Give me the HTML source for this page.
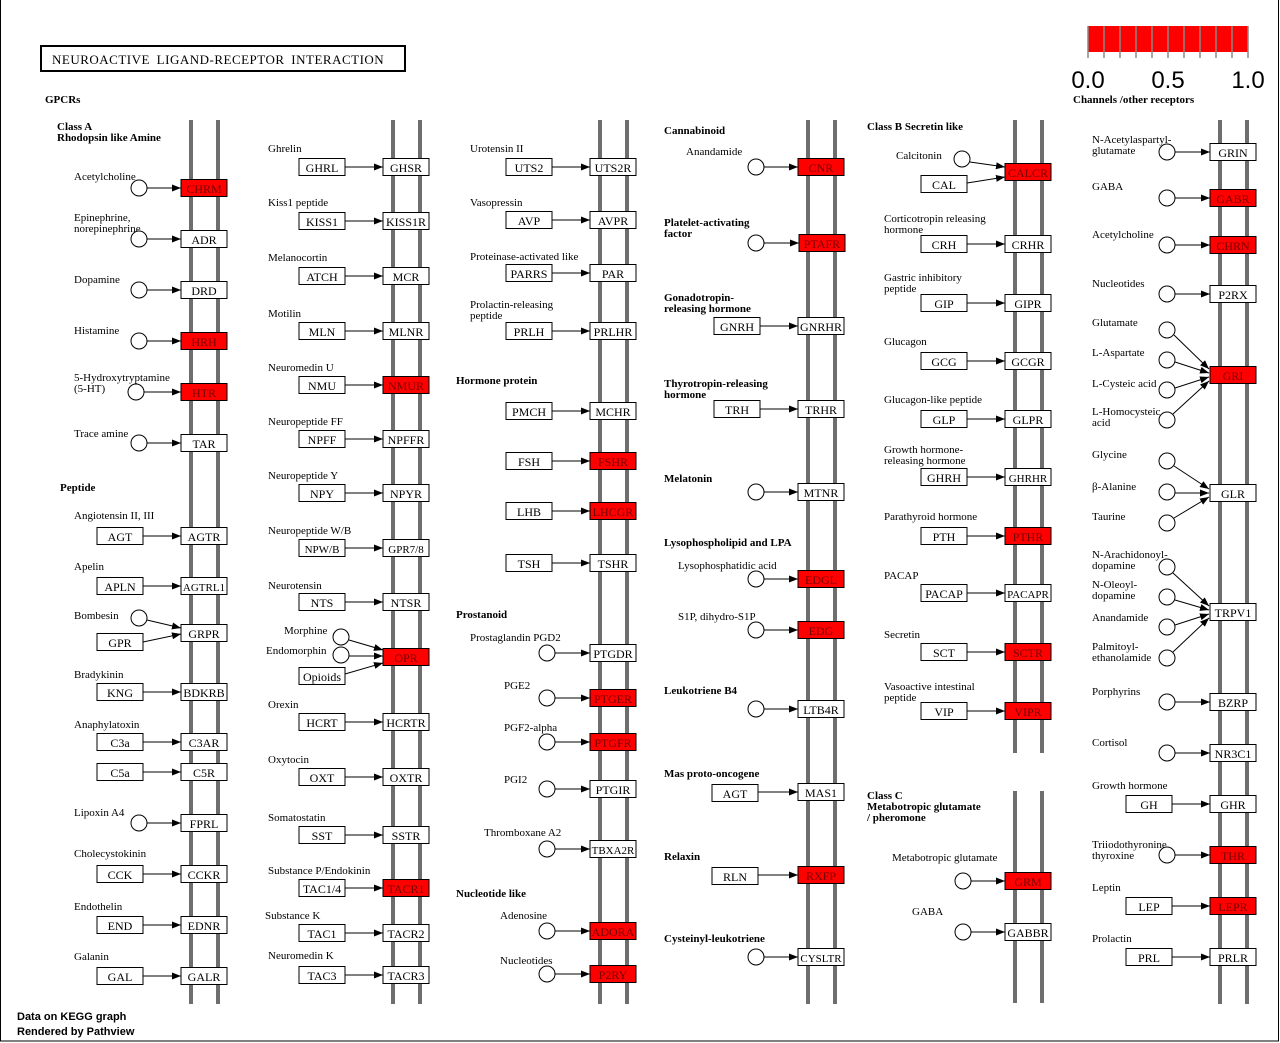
<!DOCTYPE html>
<html><head><meta charset="utf-8"><style>
html,body{margin:0;padding:0;background:#fff}
svg{display:block}
text{font-family:"Liberation Serif",serif;font-size:11px;fill:#000}
.b{font-weight:bold}
.r{font-size:12px;text-anchor:middle}
.rr{font-size:12px;text-anchor:middle;fill:#700}
.m{stroke:#6e6e6e;stroke-width:4}
.bx{fill:#fff;stroke:#000;stroke-width:1}
.rb{fill:#f00;stroke:#000;stroke-width:1}
.c{fill:#fff;stroke:#000;stroke-width:1}
.a{stroke:#000;stroke-width:1;fill:none;marker-end:url(#ah)}
</style></head><body>
<svg width="1280" height="1043" viewBox="0 0 1280 1043" xmlns="http://www.w3.org/2000/svg">
<defs><marker id="ah" markerUnits="userSpaceOnUse" markerWidth="10" markerHeight="8" refX="9" refY="3.5" orient="auto"><path d="M0,0 L9,3.5 L0,7 z" fill="#000"/></marker></defs>
<rect x="0.5" y="-1" width="1278" height="1042" fill="none" stroke="#000"/>
<g class="m">
<line x1="191" y1="120" x2="191" y2="1004"/><line x1="218" y1="120" x2="218" y2="1004"/>
<line x1="393" y1="120" x2="393" y2="1004"/><line x1="420" y1="120" x2="420" y2="1004"/>
<line x1="600" y1="120" x2="600" y2="1004"/><line x1="627" y1="120" x2="627" y2="1004"/>
<line x1="808" y1="120" x2="808" y2="1004"/><line x1="835" y1="120" x2="835" y2="1004"/>
<line x1="1015" y1="120" x2="1015" y2="753"/><line x1="1042" y1="120" x2="1042" y2="753"/>
<line x1="1015" y1="791" x2="1015" y2="1003"/><line x1="1042" y1="791" x2="1042" y2="1003"/>
<line x1="1220" y1="120" x2="1220" y2="1004"/><line x1="1247" y1="120" x2="1247" y2="1004"/>
</g>
<rect x="41" y="46" width="364" height="25" fill="#fff" stroke="#000" stroke-width="2"/>
<text x="52" y="64" style="font-size:13px;word-spacing:3px;letter-spacing:0.5px">NEUROACTIVE LIGAND-RECEPTOR INTERACTION</text>
<text x="45" y="103" class="b">GPCRs</text>
<text x="57" y="130" class="b">Class A</text><text x="57" y="141" class="b">Rhodopsin like Amine</text>
<rect x="1088" y="26" width="160" height="26" fill="#f00"/>
<g stroke="#888" stroke-width="1.5">
<line x1="1088" y1="26" x2="1088" y2="58"/><line x1="1104" y1="26" x2="1104" y2="58"/><line x1="1120" y1="26" x2="1120" y2="58"/><line x1="1136" y1="26" x2="1136" y2="58"/><line x1="1152" y1="26" x2="1152" y2="58"/><line x1="1168" y1="26" x2="1168" y2="58"/><line x1="1184" y1="26" x2="1184" y2="58"/><line x1="1200" y1="26" x2="1200" y2="58"/><line x1="1216" y1="26" x2="1216" y2="58"/><line x1="1232" y1="26" x2="1232" y2="58"/><line x1="1248" y1="26" x2="1248" y2="58"/>
</g>
<text x="1088" y="88" style="font-family:'Liberation Sans',sans-serif;font-size:24px;text-anchor:middle">0.0</text>
<text x="1168" y="88" style="font-family:'Liberation Sans',sans-serif;font-size:24px;text-anchor:middle">0.5</text>
<text x="1248" y="88" style="font-family:'Liberation Sans',sans-serif;font-size:24px;text-anchor:middle">1.0</text>
<text x="1073" y="103" class="b">Channels /other receptors</text>
<text x="17" y="1020" style="font-family:'Liberation Sans',sans-serif;font-size:11px;font-weight:bold">Data on KEGG graph</text>
<text x="17" y="1035" style="font-family:'Liberation Sans',sans-serif;font-size:11px;font-weight:bold">Rendered by Pathview</text>

<text x="74" y="180">Acetylcholine</text><circle class="c" cx="139" cy="188" r="8"/><line class="a" x1="147" y1="188" x2="181" y2="188"/><rect class="rb" x="181" y="179.5" width="46" height="17"/><text class="rr" x="204" y="193">CHRM</text>
<text x="74" y="221">Epinephrine,</text><text x="74" y="232">norepinephrine</text><circle class="c" cx="139" cy="239" r="8"/><line class="a" x1="147" y1="239" x2="181" y2="239"/><rect class="bx" x="181" y="230.5" width="46" height="17"/><text class="r" x="204" y="244">ADR</text>
<text x="74" y="283">Dopamine</text><circle class="c" cx="139" cy="290" r="8"/><line class="a" x1="147" y1="290" x2="181" y2="290"/><rect class="bx" x="181" y="281.5" width="46" height="17"/><text class="r" x="204" y="295">DRD</text>
<text x="74" y="334">Histamine</text><circle class="c" cx="139" cy="341" r="8"/><line class="a" x1="147" y1="341" x2="181" y2="341"/><rect class="rb" x="181" y="332.5" width="46" height="17"/><text class="rr" x="204" y="346">HRH</text>
<text x="74" y="381">5-Hydroxytryptamine</text><text x="74" y="392">(5-HT)</text><circle class="c" cx="136" cy="392" r="8"/><line class="a" x1="144" y1="392" x2="181" y2="392"/><rect class="rb" x="181" y="383.5" width="46" height="17"/><text class="rr" x="204" y="397">HTR</text>
<text x="74" y="437">Trace amine</text><circle class="c" cx="139" cy="443" r="8"/><line class="a" x1="147" y1="443" x2="181" y2="443"/><rect class="bx" x="181" y="434.5" width="46" height="17"/><text class="r" x="204" y="448">TAR</text>
<text x="60" y="491" class="b">Peptide</text>
<text x="74" y="519">Angiotensin II, III</text><rect class="bx" x="97" y="527.5" width="46" height="17"/><text class="r" x="120" y="541">AGT</text><line class="a" x1="143" y1="536" x2="181" y2="536"/><rect class="bx" x="181" y="527.5" width="46" height="17"/><text class="r" x="204" y="541">AGTR</text>
<text x="74" y="570">Apelin</text><rect class="bx" x="97" y="577.5" width="46" height="17"/><text class="r" x="120" y="591">APLN</text><line class="a" x1="143" y1="586" x2="181" y2="586"/><rect class="bx" x="181" y="577.5" width="46" height="17"/><text class="r" x="204" y="591" style="font-size:11px">AGTRL1</text>
<text x="74" y="619">Bombesin</text><circle class="c" cx="139" cy="618" r="8"/><line class="a" x1="147" y1="620" x2="181" y2="628"/><rect class="bx" x="97" y="633.5" width="46" height="17"/><text class="r" x="120" y="647">GPR</text><line class="a" x1="143" y1="642" x2="181" y2="634"/><rect class="bx" x="181" y="624.5" width="46" height="17"/><text class="r" x="204" y="638">GRPR</text>
<text x="74" y="678">Bradykinin</text><rect class="bx" x="97" y="683.5" width="46" height="17"/><text class="r" x="120" y="697">KNG</text><line class="a" x1="143" y1="692" x2="181" y2="692"/><rect class="bx" x="181" y="683.5" width="46" height="17"/><text class="r" x="204" y="697">BDKRB</text>
<text x="74" y="728">Anaphylatoxin</text><rect class="bx" x="97" y="733.5" width="46" height="17"/><text class="r" x="120" y="747">C3a</text><line class="a" x1="143" y1="742" x2="181" y2="742"/><rect class="bx" x="181" y="733.5" width="46" height="17"/><text class="r" x="204" y="747">C3AR</text>
<rect class="bx" x="97" y="763.5" width="46" height="17"/><text class="r" x="120" y="777">C5a</text><line class="a" x1="143" y1="772" x2="181" y2="772"/><rect class="bx" x="181" y="763.5" width="46" height="17"/><text class="r" x="204" y="777">C5R</text>
<text x="74" y="816">Lipoxin A4</text><circle class="c" cx="139" cy="823" r="8"/><line class="a" x1="147" y1="823" x2="181" y2="823"/><rect class="bx" x="181" y="814.5" width="46" height="17"/><text class="r" x="204" y="828">FPRL</text>
<text x="74" y="857">Cholecystokinin</text><rect class="bx" x="97" y="865.5" width="46" height="17"/><text class="r" x="120" y="879">CCK</text><line class="a" x1="143" y1="874" x2="181" y2="874"/><rect class="bx" x="181" y="865.5" width="46" height="17"/><text class="r" x="204" y="879">CCKR</text>
<text x="74" y="910">Endothelin</text><rect class="bx" x="97" y="916.5" width="46" height="17"/><text class="r" x="120" y="930">END</text><line class="a" x1="143" y1="925" x2="181" y2="925"/><rect class="bx" x="181" y="916.5" width="46" height="17"/><text class="r" x="204" y="930">EDNR</text>
<text x="74" y="960">Galanin</text><rect class="bx" x="97" y="967.5" width="46" height="17"/><text class="r" x="120" y="981">GAL</text><line class="a" x1="143" y1="976" x2="181" y2="976"/><rect class="bx" x="181" y="967.5" width="46" height="17"/><text class="r" x="204" y="981">GALR</text>

<text x="268" y="152">Ghrelin</text><rect class="bx" x="299" y="158.5" width="46" height="17"/><text class="r" x="322" y="172">GHRL</text><line class="a" x1="345" y1="167" x2="383" y2="167"/><rect class="bx" x="383" y="158.5" width="46" height="17"/><text class="r" x="406" y="172">GHSR</text>
<text x="268" y="206">Kiss1 peptide</text><rect class="bx" x="299" y="212.5" width="46" height="17"/><text class="r" x="322" y="226">KISS1</text><line class="a" x1="345" y1="221" x2="383" y2="221"/><rect class="bx" x="383" y="212.5" width="46" height="17"/><text class="r" x="406" y="226">KISS1R</text>
<text x="268" y="261">Melanocortin</text><rect class="bx" x="299" y="267.5" width="46" height="17"/><text class="r" x="322" y="281">ATCH</text><line class="a" x1="345" y1="276" x2="383" y2="276"/><rect class="bx" x="383" y="267.5" width="46" height="17"/><text class="r" x="406" y="281">MCR</text>
<text x="268" y="317">Motilin</text><rect class="bx" x="299" y="322.5" width="46" height="17"/><text class="r" x="322" y="336">MLN</text><line class="a" x1="345" y1="331" x2="383" y2="331"/><rect class="bx" x="383" y="322.5" width="46" height="17"/><text class="r" x="406" y="336">MLNR</text>
<text x="268" y="371">Neuromedin U</text><rect class="bx" x="299" y="376.5" width="46" height="17"/><text class="r" x="322" y="390">NMU</text><line class="a" x1="345" y1="385" x2="383" y2="385"/><rect class="rb" x="383" y="376.5" width="46" height="17"/><text class="rr" x="406" y="390">NMUR</text>
<text x="268" y="425">Neuropeptide FF</text><rect class="bx" x="299" y="430.5" width="46" height="17"/><text class="r" x="322" y="444">NPFF</text><line class="a" x1="345" y1="439" x2="383" y2="439"/><rect class="bx" x="383" y="430.5" width="46" height="17"/><text class="r" x="406" y="444">NPFFR</text>
<text x="268" y="479">Neuropeptide Y</text><rect class="bx" x="299" y="484.5" width="46" height="17"/><text class="r" x="322" y="498">NPY</text><line class="a" x1="345" y1="493" x2="383" y2="493"/><rect class="bx" x="383" y="484.5" width="46" height="17"/><text class="r" x="406" y="498">NPYR</text>
<text x="268" y="534">Neuropeptide W/B</text><rect class="bx" x="299" y="539.5" width="46" height="17"/><text class="r" x="322" y="553" style="font-size:11px">NPW/B</text><line class="a" x1="345" y1="548" x2="383" y2="548"/><rect class="bx" x="383" y="539.5" width="46" height="17"/><text class="r" x="406" y="553" style="font-size:11px">GPR7/8</text>
<text x="268" y="589">Neurotensin</text><rect class="bx" x="299" y="593.5" width="46" height="17"/><text class="r" x="322" y="607">NTS</text><line class="a" x1="345" y1="602" x2="383" y2="602"/><rect class="bx" x="383" y="593.5" width="46" height="17"/><text class="r" x="406" y="607">NTSR</text>
<text x="284" y="634">Morphine</text><circle class="c" cx="341" cy="637" r="8"/><line class="a" x1="349" y1="640" x2="383" y2="650"/>
<text x="266" y="654">Endomorphin</text><circle class="c" cx="341" cy="655" r="8"/><line class="a" x1="349" y1="656" x2="383" y2="656"/>
<rect class="bx" x="299" y="667.5" width="46" height="17"/><text class="r" x="322" y="681">Opioids</text><line class="a" x1="345" y1="674" x2="383" y2="663"/>
<rect class="rb" x="383" y="648.5" width="46" height="17"/><text class="rr" x="406" y="662">OPR</text>
<text x="268" y="708">Orexin</text><rect class="bx" x="299" y="713.5" width="46" height="17"/><text class="r" x="322" y="727">HCRT</text><line class="a" x1="345" y1="722" x2="383" y2="722"/><rect class="bx" x="383" y="713.5" width="46" height="17"/><text class="r" x="406" y="727">HCRTR</text>
<text x="268" y="763">Oxytocin</text><rect class="bx" x="299" y="768.5" width="46" height="17"/><text class="r" x="322" y="782">OXT</text><line class="a" x1="345" y1="777" x2="383" y2="777"/><rect class="bx" x="383" y="768.5" width="46" height="17"/><text class="r" x="406" y="782">OXTR</text>
<text x="268" y="821">Somatostatin</text><rect class="bx" x="299" y="826.5" width="46" height="17"/><text class="r" x="322" y="840">SST</text><line class="a" x1="345" y1="835" x2="383" y2="835"/><rect class="bx" x="383" y="826.5" width="46" height="17"/><text class="r" x="406" y="840">SSTR</text>
<text x="268" y="874">Substance P/Endokinin</text><rect class="bx" x="299" y="879.5" width="46" height="17"/><text class="r" x="322" y="893">TAC1/4</text><line class="a" x1="345" y1="888" x2="383" y2="888"/><rect class="rb" x="383" y="879.5" width="46" height="17"/><text class="rr" x="406" y="893">TACR1</text>
<text x="265" y="919">Substance K</text><rect class="bx" x="299" y="924.5" width="46" height="17"/><text class="r" x="322" y="938">TAC1</text><line class="a" x1="345" y1="933" x2="383" y2="933"/><rect class="bx" x="383" y="924.5" width="46" height="17"/><text class="r" x="406" y="938">TACR2</text>
<text x="268" y="959">Neuromedin K</text><rect class="bx" x="299" y="966.5" width="46" height="17"/><text class="r" x="322" y="980">TAC3</text><line class="a" x1="345" y1="975" x2="383" y2="975"/><rect class="bx" x="383" y="966.5" width="46" height="17"/><text class="r" x="406" y="980">TACR3</text>

<text x="470" y="152">Urotensin II</text><rect class="bx" x="506" y="158.5" width="46" height="17"/><text class="r" x="529" y="172">UTS2</text><line class="a" x1="552" y1="167" x2="590" y2="167"/><rect class="bx" x="590" y="158.5" width="46" height="17"/><text class="r" x="613" y="172">UTS2R</text>
<text x="470" y="206">Vasopressin</text><rect class="bx" x="506" y="211.5" width="46" height="17"/><text class="r" x="529" y="225">AVP</text><line class="a" x1="552" y1="220" x2="590" y2="220"/><rect class="bx" x="590" y="211.5" width="46" height="17"/><text class="r" x="613" y="225">AVPR</text>
<text x="470" y="260">Proteinase-activated like</text><rect class="bx" x="506" y="264.5" width="46" height="17"/><text class="r" x="529" y="278">PARRS</text><line class="a" x1="552" y1="273" x2="590" y2="273"/><rect class="bx" x="590" y="264.5" width="46" height="17"/><text class="r" x="613" y="278">PAR</text>
<text x="470" y="308">Prolactin-releasing</text><text x="470" y="319">peptide</text><rect class="bx" x="506" y="322.5" width="46" height="17"/><text class="r" x="529" y="336">PRLH</text><line class="a" x1="552" y1="331" x2="590" y2="331"/><rect class="bx" x="590" y="322.5" width="46" height="17"/><text class="r" x="613" y="336">PRLHR</text>
<text x="456" y="384" class="b">Hormone protein</text>
<rect class="bx" x="506" y="402.5" width="46" height="17"/><text class="r" x="529" y="416">PMCH</text><line class="a" x1="552" y1="411" x2="590" y2="411"/><rect class="bx" x="590" y="402.5" width="46" height="17"/><text class="r" x="613" y="416">MCHR</text>
<rect class="bx" x="506" y="452.5" width="46" height="17"/><text class="r" x="529" y="466">FSH</text><line class="a" x1="552" y1="461" x2="590" y2="461"/><rect class="rb" x="590" y="452.5" width="46" height="17"/><text class="rr" x="613" y="466">FSHR</text>
<rect class="bx" x="506" y="502.5" width="46" height="17"/><text class="r" x="529" y="516">LHB</text><line class="a" x1="552" y1="511" x2="590" y2="511"/><rect class="rb" x="590" y="502.5" width="46" height="17"/><text class="rr" x="613" y="516">LHCGR</text>
<rect class="bx" x="506" y="554.5" width="46" height="17"/><text class="r" x="529" y="568">TSH</text><line class="a" x1="552" y1="563" x2="590" y2="563"/><rect class="bx" x="590" y="554.5" width="46" height="17"/><text class="r" x="613" y="568">TSHR</text>
<text x="456" y="618" class="b">Prostanoid</text>
<text x="470" y="641">Prostaglandin PGD2</text><circle class="c" cx="547" cy="653" r="8"/><line class="a" x1="555" y1="653" x2="590" y2="653"/><rect class="bx" x="590" y="644.5" width="46" height="17"/><text class="r" x="613" y="658">PTGDR</text>
<text x="504" y="689">PGE2</text><circle class="c" cx="547" cy="698" r="8"/><line class="a" x1="555" y1="698" x2="590" y2="698"/><rect class="rb" x="590" y="689.5" width="46" height="17"/><text class="rr" x="613" y="703">PTGER</text>
<text x="504" y="731">PGF2-alpha</text><circle class="c" cx="547" cy="742" r="8"/><line class="a" x1="555" y1="742" x2="590" y2="742"/><rect class="rb" x="590" y="733.5" width="46" height="17"/><text class="rr" x="613" y="747">PTGFR</text>
<text x="504" y="783">PGI2</text><circle class="c" cx="547" cy="789" r="8"/><line class="a" x1="555" y1="789" x2="590" y2="789"/><rect class="bx" x="590" y="780.5" width="46" height="17"/><text class="r" x="613" y="794">PTGIR</text>
<text x="484" y="836">Thromboxane A2</text><circle class="c" cx="547" cy="849" r="8"/><line class="a" x1="555" y1="849" x2="590" y2="849"/><rect class="bx" x="590" y="840.5" width="46" height="17"/><text class="r" x="613" y="854" style="font-size:11px">TBXA2R</text>
<text x="456" y="897" class="b">Nucleotide like</text>
<text x="500" y="919">Adenosine</text><circle class="c" cx="547" cy="931" r="8"/><line class="a" x1="555" y1="931" x2="590" y2="931"/><rect class="rb" x="590" y="922.5" width="46" height="17"/><text class="rr" x="613" y="936">ADORA</text>
<text x="500" y="964">Nucleotides</text><circle class="c" cx="547" cy="974" r="8"/><line class="a" x1="555" y1="974" x2="590" y2="974"/><rect class="rb" x="590" y="965.5" width="46" height="17"/><text class="rr" x="613" y="979">P2RY</text>

<text x="664" y="134" class="b">Cannabinoid</text>
<text x="686" y="155">Anandamide</text><circle class="c" cx="756" cy="167" r="8"/><line class="a" x1="764" y1="167" x2="798" y2="167"/><rect class="rb" x="798" y="158.5" width="46" height="17"/><text class="rr" x="821" y="172">CNR</text>
<text x="664" y="226" class="b">Platelet-activating</text><text x="664" y="237" class="b">factor</text><circle class="c" cx="756" cy="243" r="8"/><line class="a" x1="764" y1="243" x2="799" y2="243"/><rect class="rb" x="799" y="234.5" width="46" height="17"/><text class="rr" x="822" y="248">PTAFR</text>
<text x="664" y="301" class="b">Gonadotropin-</text><text x="664" y="312" class="b">releasing hormone</text><rect class="bx" x="714" y="317.5" width="46" height="17"/><text class="r" x="737" y="331">GNRH</text><line class="a" x1="760" y1="326" x2="798" y2="326"/><rect class="bx" x="798" y="317.5" width="46" height="17"/><text class="r" x="821" y="331">GNRHR</text>
<text x="664" y="387" class="b">Thyrotropin-releasing</text><text x="664" y="398" class="b">hormone</text><rect class="bx" x="714" y="400.5" width="46" height="17"/><text class="r" x="737" y="414">TRH</text><line class="a" x1="760" y1="409" x2="798" y2="409"/><rect class="bx" x="798" y="400.5" width="46" height="17"/><text class="r" x="821" y="414">TRHR</text>
<text x="664" y="482" class="b">Melatonin</text><circle class="c" cx="756" cy="492" r="8"/><line class="a" x1="764" y1="492" x2="798" y2="492"/><rect class="bx" x="798" y="483.5" width="46" height="17"/><text class="r" x="821" y="497">MTNR</text>
<text x="664" y="546" class="b">Lysophospholipid and LPA</text>
<text x="678" y="569">Lysophosphatidic acid</text><circle class="c" cx="756" cy="579" r="8"/><line class="a" x1="764" y1="579" x2="798" y2="579"/><rect class="rb" x="798" y="570.5" width="46" height="17"/><text class="rr" x="821" y="584">EDGL</text>
<text x="678" y="620">S1P, dihydro-S1P</text><circle class="c" cx="756" cy="630" r="8"/><line class="a" x1="764" y1="630" x2="798" y2="630"/><rect class="rb" x="798" y="621.5" width="46" height="17"/><text class="rr" x="821" y="635">EDG</text>
<text x="664" y="694" class="b">Leukotriene B4</text><circle class="c" cx="756" cy="709" r="8"/><line class="a" x1="764" y1="709" x2="798" y2="709"/><rect class="bx" x="798" y="700.5" width="46" height="17"/><text class="r" x="821" y="714">LTB4R</text>
<text x="664" y="777" class="b">Mas proto-oncogene</text><rect class="bx" x="712" y="784.5" width="46" height="17"/><text class="r" x="735" y="798">AGT</text><line class="a" x1="758" y1="792" x2="798" y2="792"/><rect class="bx" x="798" y="783.5" width="46" height="17"/><text class="r" x="821" y="797">MAS1</text>
<text x="664" y="860" class="b">Relaxin</text><rect class="bx" x="712" y="867.5" width="46" height="17"/><text class="r" x="735" y="881">RLN</text><line class="a" x1="758" y1="875" x2="798" y2="875"/><rect class="rb" x="798" y="866.5" width="46" height="17"/><text class="rr" x="821" y="880">RXFP</text>
<text x="664" y="942" class="b">Cysteinyl-leukotriene</text><circle class="c" cx="756" cy="957" r="8"/><line class="a" x1="764" y1="957" x2="798" y2="957"/><rect class="bx" x="798" y="948.5" width="46" height="17"/><text class="r" x="821" y="962" style="font-size:11px">CYSLTR</text>

<text x="867" y="130" class="b">Class B Secretin like</text>
<text x="896" y="159">Calcitonin</text><circle class="c" cx="962" cy="159" r="8"/><line class="a" x1="970" y1="162" x2="1005" y2="167"/><rect class="bx" x="921" y="175.5" width="46" height="17"/><text class="r" x="944" y="189">CAL</text><line class="a" x1="967" y1="183" x2="1005" y2="177"/><rect class="rb" x="1005" y="163.5" width="46" height="17"/><text class="rr" x="1028" y="177">CALCR</text>
<text x="884" y="222">Corticotropin releasing</text><text x="884" y="233">hormone</text><rect class="bx" x="921" y="235.5" width="46" height="17"/><text class="r" x="944" y="249">CRH</text><line class="a" x1="967" y1="244" x2="1005" y2="244"/><rect class="bx" x="1005" y="235.5" width="46" height="17"/><text class="r" x="1028" y="249">CRHR</text>
<text x="884" y="281">Gastric inhibitory</text><text x="884" y="292">peptide</text><rect class="bx" x="921" y="294.5" width="46" height="17"/><text class="r" x="944" y="308">GIP</text><line class="a" x1="967" y1="303" x2="1005" y2="303"/><rect class="bx" x="1005" y="294.5" width="46" height="17"/><text class="r" x="1028" y="308">GIPR</text>
<text x="884" y="345">Glucagon</text><rect class="bx" x="921" y="352.5" width="46" height="17"/><text class="r" x="944" y="366">GCG</text><line class="a" x1="967" y1="361" x2="1005" y2="361"/><rect class="bx" x="1005" y="352.5" width="46" height="17"/><text class="r" x="1028" y="366">GCGR</text>
<text x="884" y="403">Glucagon-like peptide</text><rect class="bx" x="921" y="410.5" width="46" height="17"/><text class="r" x="944" y="424">GLP</text><line class="a" x1="967" y1="419" x2="1005" y2="419"/><rect class="bx" x="1005" y="410.5" width="46" height="17"/><text class="r" x="1028" y="424">GLPR</text>
<text x="884" y="453">Growth hormone-</text><text x="884" y="464">releasing hormone</text><rect class="bx" x="921" y="468.5" width="46" height="17"/><text class="r" x="944" y="482">GHRH</text><line class="a" x1="967" y1="477" x2="1005" y2="477"/><rect class="bx" x="1005" y="468.5" width="46" height="17"/><text class="r" x="1028" y="482" style="font-size:11px">GHRHR</text>
<text x="884" y="520">Parathyroid hormone</text><rect class="bx" x="921" y="527.5" width="46" height="17"/><text class="r" x="944" y="541">PTH</text><line class="a" x1="967" y1="536" x2="1005" y2="536"/><rect class="rb" x="1005" y="527.5" width="46" height="17"/><text class="rr" x="1028" y="541">PTHR</text>
<text x="884" y="579">PACAP</text><rect class="bx" x="921" y="584.5" width="46" height="17"/><text class="r" x="944" y="598">PACAP</text><line class="a" x1="967" y1="593" x2="1005" y2="593"/><rect class="bx" x="1005" y="584.5" width="46" height="17"/><text class="r" x="1028" y="598" style="font-size:11px">PACAPR</text>
<text x="884" y="638">Secretin</text><rect class="bx" x="921" y="643.5" width="46" height="17"/><text class="r" x="944" y="657">SCT</text><line class="a" x1="967" y1="652" x2="1005" y2="652"/><rect class="rb" x="1005" y="643.5" width="46" height="17"/><text class="rr" x="1028" y="657">SCTR</text>
<text x="884" y="690">Vasoactive intestinal</text><text x="884" y="701">peptide</text><rect class="bx" x="921" y="702.5" width="46" height="17"/><text class="r" x="944" y="716">VIP</text><line class="a" x1="967" y1="711" x2="1005" y2="711"/><rect class="rb" x="1005" y="702.5" width="46" height="17"/><text class="rr" x="1028" y="716">VIPR</text>
<text x="867" y="799" class="b">Class C</text><text x="867" y="810" class="b">Metabotropic glutamate</text><text x="867" y="821" class="b">/ pheromone</text>
<text x="892" y="861">Metabotropic glutamate</text><circle class="c" cx="963" cy="881" r="8"/><line class="a" x1="971" y1="881" x2="1005" y2="881"/><rect class="rb" x="1005" y="872.5" width="46" height="17"/><text class="rr" x="1028" y="886">GRM</text>
<text x="912" y="915">GABA</text><circle class="c" cx="963" cy="932" r="8"/><line class="a" x1="971" y1="932" x2="1005" y2="932"/><rect class="bx" x="1005" y="923.5" width="46" height="17"/><text class="r" x="1028" y="937">GABBR</text>

<text x="1092" y="143">N-Acetylaspartyl-</text><text x="1092" y="154">glutamate</text><circle class="c" cx="1167" cy="152" r="8"/><line class="a" x1="1175" y1="152" x2="1210" y2="152"/><rect class="bx" x="1210" y="143.5" width="46" height="17"/><text class="r" x="1233" y="157">GRIN</text>
<text x="1092" y="190">GABA</text><circle class="c" cx="1167" cy="198" r="8"/><line class="a" x1="1175" y1="198" x2="1210" y2="198"/><rect class="rb" x="1210" y="189.5" width="46" height="17"/><text class="rr" x="1233" y="203">GABR</text>
<text x="1092" y="238">Acetylcholine</text><circle class="c" cx="1167" cy="245" r="8"/><line class="a" x1="1175" y1="245" x2="1210" y2="245"/><rect class="rb" x="1210" y="236.5" width="46" height="17"/><text class="rr" x="1233" y="250">CHRN</text>
<text x="1092" y="287">Nucleotides</text><circle class="c" cx="1167" cy="294" r="8"/><line class="a" x1="1175" y1="294" x2="1210" y2="294"/><rect class="bx" x="1210" y="285.5" width="46" height="17"/><text class="r" x="1233" y="299">P2RX</text>
<text x="1092" y="326">Glutamate</text><circle class="c" cx="1167" cy="330" r="8"/><line class="a" x1="1174" y1="335" x2="1209" y2="369"/>
<text x="1092" y="356">L-Aspartate</text><circle class="c" cx="1167" cy="360" r="8"/><line class="a" x1="1175" y1="362" x2="1209" y2="373"/>
<text x="1092" y="387">L-Cysteic acid</text><circle class="c" cx="1167" cy="390" r="8"/><line class="a" x1="1175" y1="388" x2="1209" y2="377"/>
<text x="1092" y="415">L-Homocysteic</text><text x="1092" y="426">acid</text><circle class="c" cx="1167" cy="420" r="8"/><line class="a" x1="1173" y1="414" x2="1209" y2="381"/>
<rect class="rb" x="1210" y="366.5" width="46" height="17"/><text class="rr" x="1233" y="380">GRI</text>
<text x="1092" y="458">Glycine</text><circle class="c" cx="1167" cy="461" r="8"/><line class="a" x1="1174" y1="466" x2="1209" y2="489"/>
<text x="1092" y="490">β-Alanine</text><circle class="c" cx="1167" cy="492" r="8"/><line class="a" x1="1175" y1="493" x2="1209" y2="493"/>
<text x="1092" y="520">Taurine</text><circle class="c" cx="1167" cy="523" r="8"/><line class="a" x1="1174" y1="518" x2="1209" y2="497"/>
<rect class="bx" x="1210" y="484.5" width="46" height="17"/><text class="r" x="1233" y="498">GLR</text>
<text x="1092" y="558">N-Arachidonoyl-</text><text x="1092" y="569">dopamine</text><circle class="c" cx="1167" cy="567" r="8"/><line class="a" x1="1173" y1="573" x2="1209" y2="606"/>
<text x="1092" y="588">N-Oleoyl-</text><text x="1092" y="599">dopamine</text><circle class="c" cx="1167" cy="597" r="8"/><line class="a" x1="1175" y1="600" x2="1209" y2="610"/>
<text x="1092" y="621">Anandamide</text><circle class="c" cx="1167" cy="627" r="8"/><line class="a" x1="1175" y1="625" x2="1209" y2="614"/>
<text x="1092" y="650">Palmitoyl-</text><text x="1092" y="661">ethanolamide</text><circle class="c" cx="1167" cy="658" r="8"/><line class="a" x1="1173" y1="652" x2="1209" y2="618"/>
<rect class="bx" x="1210" y="603.5" width="46" height="17"/><text class="r" x="1233" y="617">TRPV1</text>
<text x="1092" y="695">Porphyrins</text><circle class="c" cx="1167" cy="702" r="8"/><line class="a" x1="1175" y1="702" x2="1210" y2="702"/><rect class="bx" x="1210" y="693.5" width="46" height="17"/><text class="r" x="1233" y="707">BZRP</text>
<text x="1092" y="746">Cortisol</text><circle class="c" cx="1167" cy="753" r="8"/><line class="a" x1="1175" y1="753" x2="1210" y2="753"/><rect class="bx" x="1210" y="744.5" width="46" height="17"/><text class="r" x="1233" y="758">NR3C1</text>
<text x="1092" y="789">Growth hormone</text><rect class="bx" x="1126" y="795.5" width="46" height="17"/><text class="r" x="1149" y="809">GH</text><line class="a" x1="1172" y1="804" x2="1210" y2="804"/><rect class="bx" x="1210" y="795.5" width="46" height="17"/><text class="r" x="1233" y="809">GHR</text>
<text x="1092" y="848">Triiodothyronine,</text><text x="1092" y="859">thyroxine</text><circle class="c" cx="1167" cy="855" r="8"/><line class="a" x1="1175" y1="855" x2="1210" y2="855"/><rect class="rb" x="1210" y="846.5" width="46" height="17"/><text class="rr" x="1233" y="860">THR</text>
<text x="1092" y="891">Leptin</text><rect class="bx" x="1126" y="897.5" width="46" height="17"/><text class="r" x="1149" y="911">LEP</text><line class="a" x1="1172" y1="906" x2="1210" y2="906"/><rect class="rb" x="1210" y="897.5" width="46" height="17"/><text class="rr" x="1233" y="911">LEPR</text>
<text x="1092" y="942">Prolactin</text><rect class="bx" x="1126" y="948.5" width="46" height="17"/><text class="r" x="1149" y="962">PRL</text><line class="a" x1="1172" y1="957" x2="1210" y2="957"/><rect class="bx" x="1210" y="948.5" width="46" height="17"/><text class="r" x="1233" y="962">PRLR</text>
</svg>
</body></html>
